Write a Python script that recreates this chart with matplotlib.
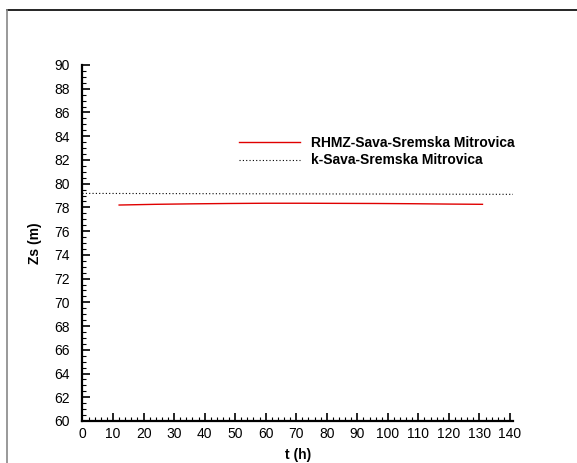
import matplotlib
matplotlib.use("Agg")
import matplotlib.pyplot as plt
from matplotlib.lines import Line2D
from matplotlib.ticker import MultipleLocator

plt.rcParams['font.family'] = ['Liberation Sans', 'DejaVu Sans']

# Data
t_rhmz = [12, 24, 36, 48, 60, 72, 84, 96, 108, 120, 131]
zs_rhmz = [78.20, 78.26, 78.30, 78.33, 78.35, 78.35, 78.34, 78.33, 78.31, 78.28, 78.26]
t_k = [0, 35, 70, 105, 141]
zs_k = [79.18, 79.16, 79.14, 79.12, 79.10]
label_rhmz = "RHMZ-Sava-Sremska Mitrovica"
label_k = "k-Sava-Sremska Mitrovica"

W, H = 577, 463
fig = plt.figure(figsize=(W / 100, H / 100), dpi=100)

# outer frame
fig.add_artist(Line2D([7 / W, 1.0], [1 - 10 / H, 1 - 10 / H], color='black', lw=1.2,
                      transform=fig.transFigure))
fig.add_artist(Line2D([7 / W, 7 / W], [0, 1 - 10 / H], color='#888888', lw=1.2,
                      transform=fig.transFigure))

ax = fig.add_axes([82.5 / W, 1 - 421 / H, (513 - 82.5) / W, (421 - 65) / H])
l1, = ax.plot(t_rhmz, zs_rhmz, color='#e00000', lw=1.0)
l2, = ax.plot(t_k, zs_k, color='black', lw=0.8, linestyle=(0, (1, 2)))

ax.set_xlim(0, 141)
ax.set_ylim(60, 90)
ax.xaxis.set_major_locator(MultipleLocator(10))
ax.xaxis.set_minor_locator(MultipleLocator(2))
ax.yaxis.set_major_locator(MultipleLocator(2))
ax.yaxis.set_minor_locator(MultipleLocator(0.5))

for s in ['top', 'right']:
    ax.spines[s].set_visible(False)
for s in ['left', 'bottom']:
    ax.spines[s].set_linewidth(1.6)

ax.tick_params(which='major', direction='in', length=6, width=1.2, labelsize=10)
ax.tick_params(which='minor', direction='in', length=3, width=0.8)
ax.tick_params(axis='y', which='major', pad=9)
ax.tick_params(axis='x', which='major', pad=4)

ax.set_xlabel('t (h)', fontsize=10, fontweight='bold', labelpad=5)
ax.set_ylabel('Zs (m)', fontsize=10, fontweight='bold', labelpad=9)

leg = fig.legend([l1, l2], [label_rhmz, label_k], loc='upper left',
                 bbox_to_anchor=(239 / W, 1 - 136 / H), frameon=False,
                 borderpad=0, borderaxespad=0, handlelength=4.4, handletextpad=0.8,
                 labelspacing=0.25, prop={'weight': 'bold', 'size': 10})

fig.savefig('out.png', dpi=100)
